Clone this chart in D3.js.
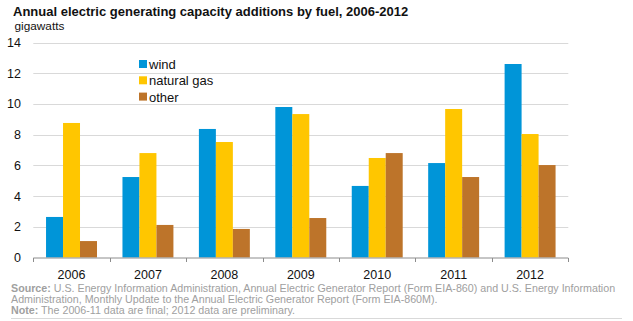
<!DOCTYPE html>
<html>
<head>
<meta charset="utf-8">
<script src="https://cdn.jsdelivr.net/npm/d3@7"></script>
<style>
  body { margin: 0; background: #fff; }
  text { font-family: "Liberation Sans", Arial, sans-serif; }
</style>
</head>
<body>
<script>
const years = ["2006", "2007", "2008", "2009", "2010", "2011", "2012"]
const fuels = ["wind", "natural gas", "other"]
const wind = [2.64, 5.24, 8.37, 9.80, 4.66, 6.15, 12.60]
const naturalGas = [8.76, 6.80, 7.52, 9.34, 6.48, 9.67, 8.04]
const other = [1.07, 2.12, 1.86, 2.57, 6.80, 5.24, 6.02]
const yTicks = [0, 2, 4, 6, 8, 10, 12, 14]
const colors = ["#0095d8", "#ffc600", "#bd742a"]

;(() => {
    const series = [wind, naturalGas, other]
    const rows = years.map((yr, i) => ({ year: yr, values: series.map((s) => s[i]) }))

    const svg = d3.select("body")
        .append("svg")
        .attr("width", 633)
        .attr("height", 321)

    const x0 = d3.scaleBand()
        .domain(years)
        .range([33.3, 568.3])
        .paddingInner(1 / 3)
        .paddingOuter(1 / 6)
    const x1 = d3.scaleBand()
        .domain(d3.range(fuels.length))
        .range([0, x0.bandwidth()])
    const y = d3.scaleLinear()
        .domain([0, 14])
        .range([257.5, 42.5])

    // gridlines
    svg.append("g")
        .selectAll("line")
        .data(yTicks.slice(1))
        .join("line")
        .attr("x1", 33.3)
        .attr("x2", 568.3)
        .attr("y1", (d) => Math.round(y(d)) + 0.5)
        .attr("y2", (d) => Math.round(y(d)) + 0.5)
        .style("stroke", "#d9d9d9")
        .style("stroke-width", 1)

    // y labels
    svg.append("g")
        .selectAll("text")
        .data(yTicks)
        .join("text")
        .attr("x", 21)
        .attr("y", (d) => y(d) + 4.5)
        .attr("text-anchor", "end")
        .style("font-size", "12.5px")
        .style("fill", "#111")
        .text((d) => d)

    // bars
    svg.append("g")
        .selectAll("g")
        .data(rows)
        .join("g")
        .attr("transform", (d) => `translate(${x0(d.year)},0)`)
        .selectAll("rect")
        .data((d) => d.values)
        .join("rect")
        .attr("x", (_, i) => x1(i))
        .attr("width", x1.bandwidth())
        .attr("y", (d) => y(d))
        .attr("height", (d) => y(0) - y(d))
        .style("fill", (_, i) => colors[i])

    // x axis
    const step = x0.step()
    const tickXs = d3.range(years.length + 1).map((i) => 33.3 + i * step)
    svg.append("line")
        .attr("x1", 33.3)
        .attr("x2", 568.3)
        .attr("y1", 258)
        .attr("y2", 258)
        .style("stroke", "#8c8c8c")
    svg.append("g")
        .selectAll("line")
        .data(tickXs)
        .join("line")
        .attr("x1", (d) => Math.round(d) + 0.5)
        .attr("x2", (d) => Math.round(d) + 0.5)
        .attr("y1", 258)
        .attr("y2", 262)
        .style("stroke", "#8c8c8c")
    svg.append("g")
        .selectAll("text")
        .data(years)
        .join("text")
        .attr("x", (d) => x0(d) + x0.bandwidth() / 2)
        .attr("y", 278.5)
        .attr("text-anchor", "middle")
        .style("font-size", "12.5px")
        .style("fill", "#111")
        .text((d) => d)

    // legend
    const legend = svg.append("g")
        .selectAll("g")
        .data(fuels)
        .join("g")
        .attr("transform", (_, i) => `translate(139,${64 + i * 16.3})`)
    legend.append("rect")
        .attr("x", 0)
        .attr("y", -4)
        .attr("width", 8)
        .attr("height", 8)
        .style("fill", (_, i) => colors[i])
    legend.append("text")
        .attr("x", 10)
        .attr("y", 5)
        .style("font-size", "13px")
        .style("fill", "#111")
        .text((d) => d)

    // titles
    svg.append("text")
        .attr("x", 13)
        .attr("y", 16)
        .style("font-size", "13px")
        .style("font-weight", "bold")
        .style("fill", "#111")
        .text("Annual electric generating capacity additions by fuel, 2006-2012")
    svg.append("text")
        .attr("x", 14.5)
        .attr("y", 29.5)
        .style("font-size", "11.8px")
        .style("fill", "#111")
        .text("gigawatts")

    // footer
    const footer = [
        ["Source:", " U.S. Energy Information Administration, Annual Electric Generator Report (Form EIA-860) and U.S. Energy Information"],
        ["", "Administration, Monthly Update to the Annual Electric Generator Report (Form EIA-860M)."],
        ["Note:", " The 2006-11 data are final; 2012 data are preliminary."]
    ]
    const ft = svg.append("g")
        .selectAll("text")
        .data(footer)
        .join("text")
        .attr("x", 11)
        .attr("y", (_, i) => 291.5 + i * 11)
        .style("font-size", "10.7px")
        .style("fill", "#a0a0a0")
    ft.append("tspan")
        .style("font-weight", "bold")
        .text((d) => d[0])
    ft.append("tspan")
        .text((d) => d[1])
    svg.append("line")
        .attr("x1", 11)
        .attr("x2", 622)
        .attr("y1", 318.5)
        .attr("y2", 318.5)
        .style("stroke", "#d9d9d9")
})()
</script>
</body>
</html>
